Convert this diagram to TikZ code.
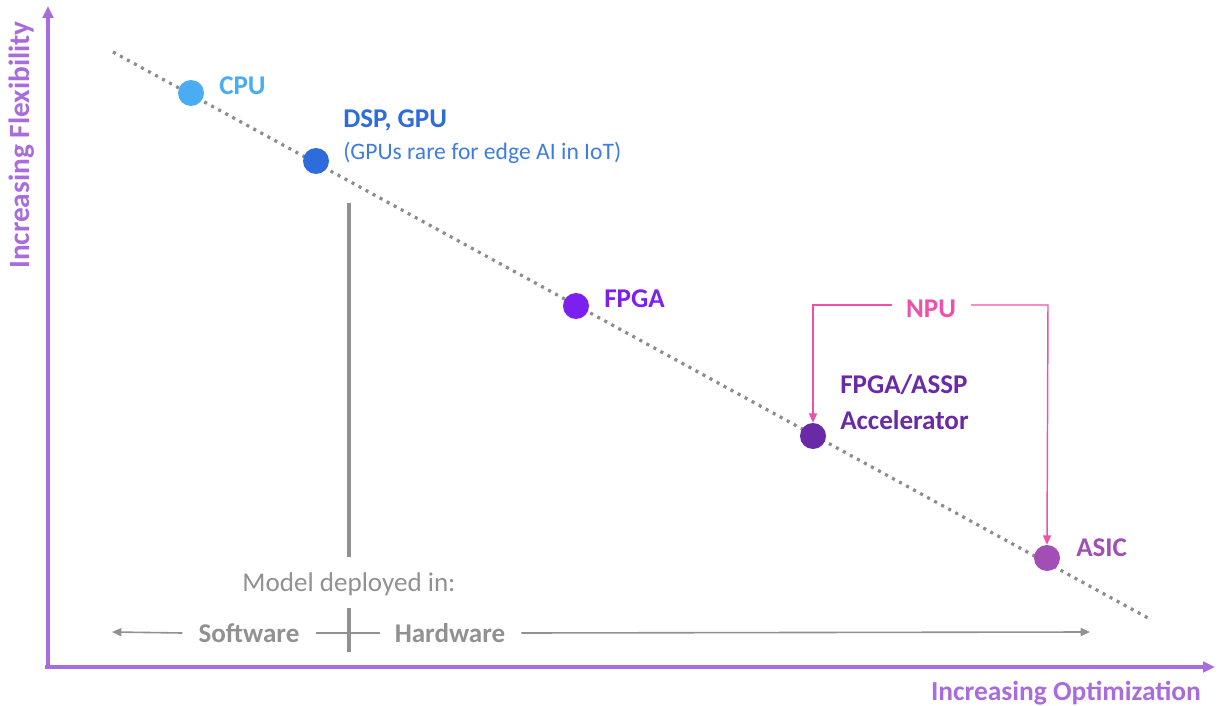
\documentclass[tikz,border=0pt]{standalone}
\usepackage{fontspec}
\setmainfont{Carlito}
\usetikzlibrary{arrows.meta,calc}
\definecolor{axispurple}{RGB}{168,108,220}
\definecolor{dotgrey}{RGB}{140,140,140}
\definecolor{midgrey}{RGB}{145,145,145}
\definecolor{cpublue}{RGB}{74,172,242}
\definecolor{dspblue}{RGB}{46,108,220}
\definecolor{notblue}{RGB}{62,124,226}
\definecolor{fpgaviolet}{RGB}{123,32,238}
\definecolor{accpurple}{RGB}{106,42,168}
\definecolor{asicpurple}{RGB}{162,78,182}
\definecolor{npupink}{RGB}{238,80,172}
\tikzset{
  pt/.style={circle, inner sep=0pt, minimum size=19.5pt},
  lbl/.style={anchor=west, inner sep=0pt, font=\fontsize{20.3}{24}\selectfont\bfseries},
  axislbl/.style={inner sep=0pt, text=axispurple},
  axisline/.style={draw=axispurple, line width=2.6pt, -{Triangle[length=9pt,width=8pt]}},
  greyline/.style={draw=midgrey, line width=1.2pt},
  greyarrow/.style={greyline, -{Triangle[length=7pt,width=6pt]}},
  greylbl/.style={inner sep=0pt, text=midgrey, font=\fontsize{20.3}{24}\selectfont\bfseries},
  npuline/.style={draw=npupink, line width=1.1pt},
  npuarrow/.style={npuline, -{Triangle[length=7pt,width=6pt]}},
}
\begin{document}
\begin{tikzpicture}[x=0.75pt, y=-0.75pt]
\useasboundingbox (0,0) rectangle (1225,706);

% axes
\coordinate (origin) at (48,667);
\coordinate (ytip) at (48,6);
\coordinate (xtip) at (1215,667);
\draw[axisline] (48,669) -- (ytip);
\draw[axisline] (45,667) -- (xtip);
\node[axislbl, rotate=90, font=\fontsize{22}{26}\selectfont\bfseries] (flex) at (22,145) {Increasing Flexibility};
\node[axislbl, font=\fontsize{20.6}{24}\selectfont\bfseries] (opt) at (1066,693) {Increasing Optimization};

% trend line
\coordinate (trendA) at (113,52);
\coordinate (trendB) at (1148,618);
\draw[dotgrey, line width=2.4pt, dash pattern=on 2.3pt off 3.7pt] (trendA) -- (trendB);

% processor points
\node[pt, fill=cpublue] (cpu) at (191,93) {};
\node[pt, fill=dspblue] (dsp) at (316,161) {};
\node[pt, fill=fpgaviolet] (fpga) at (576,306) {};
\node[pt, fill=accpurple] (acc) at (813,436) {};
\node[pt, fill=asicpurple] (asic) at (1047,558) {};

\node[lbl, text=cpublue] (cpuL) at (219,86) {CPU};
\node[lbl, text=dspblue] (dspL) at (343,120) {DSP, GPU};
\node[anchor=west, inner sep=0pt, text=notblue, font=\fontsize{17.7}{21}\selectfont] (dspN) at (343,153) {(GPUs rare for edge AI in IoT)};
\node[lbl, text=fpgaviolet] (fpgaL) at (604,299) {FPGA};
\node[lbl, text=accpurple] (accL1) at (840,385) {FPGA/ASSP};
\node[lbl, text=accpurple] (accL2) at (840,420) {Accelerator};
\node[lbl, text=asicpurple] (asicL) at (1076,548) {ASIC};

% NPU bracket
\node[inner sep=0pt, text=npupink, font=\fontsize{20.3}{24}\selectfont\bfseries] (npu) at (931,309) {NPU};
\coordinate (npuL) at (813,305);
\coordinate (npuR) at (1048,305);
\draw[npuarrow] (892,305) -- (npuL) -- (acc.north);
\draw[npuarrow] (971,305) -- (npuR) -- (asic.north);

% software / hardware divide
\coordinate (divTop) at (349,203);
\coordinate (divMid) at (349,557);
\coordinate (crossTop) at (349,608);
\coordinate (divBot) at (349,652);
\draw[midgrey, line width=2.6pt] (divTop) -- (divMid);
\draw[midgrey, line width=2.6pt] (crossTop) -- (divBot);
\node[inner sep=0pt, text=midgrey, font=\fontsize{20.3}{24}\selectfont] (model) at (349,584) {Model deployed in:};
\node[greylbl] (sw) at (249,633) {Software};
\node[greylbl] (hw) at (450,633) {Hardware};
\coordinate (swtip) at (112,632);
\coordinate (hwtip) at (1090,632);
\draw[greyarrow] ($(sw.west)+(-12pt,0)$) -- (swtip);
\draw[greyline] ($(sw.east)+(12pt,0)$) -- ($(hw.west)+(-11pt,0)$);
\draw[greyarrow] ($(hw.east)+(12pt,0)$) -- (hwtip);
\end{tikzpicture}
\end{document}
